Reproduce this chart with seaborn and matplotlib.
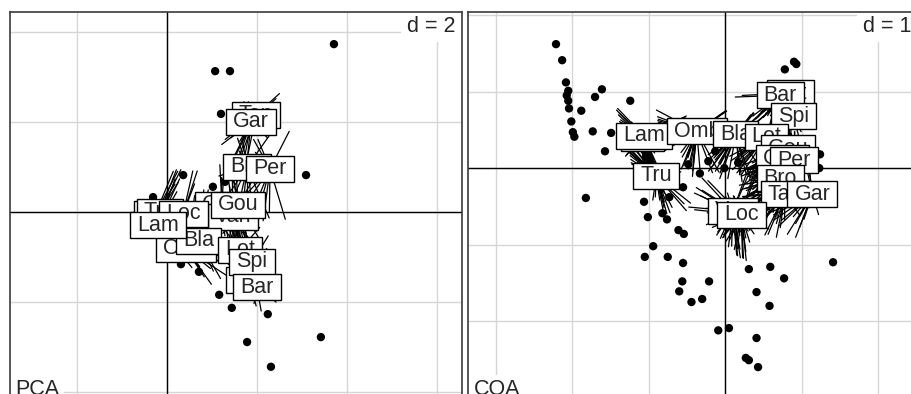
import numpy as np
import pandas as pd
import matplotlib
matplotlib.use("Agg")
import matplotlib.pyplot as plt
from matplotlib.patches import Rectangle
from matplotlib.transforms import IdentityTransform
import seaborn as sns

# ---- data: PCA panel ----
pca_x = [3.71, 1.07, 1.40, 1.20, 3.09, 0.36, -0.31, 1.02, 1.29, 0.31, 0.71, 1.16, 1.44, 2.24, 3.42, 1.78, 2.31]
pca_y = [3.73, 3.13, 3.13, 2.18, 0.82, 0.82, 0.33, 0.56, 0.67, -1.16, -1.33, -1.84, -2.13, -2.27, -2.78, -2.89, -3.44]

pca_labels = ["Tan", "Gar", "Bro", "Per", "Che", "Van", "Gou", "Vai", "Tru", "Loc",
              "Omb", "Bla", "Lam", "Lot", "Hot", "Spi", "Bar"]
pca_lab_x = [1.98, 1.87, 1.78, 2.29, 1.22, 1.47, 1.58, -0.26, -0.16, 0.36,
             0.42, 0.71, -0.20, 1.62, 1.84, 1.89, 2.00]
pca_lab_y = [2.16, 2.00, 1.00, 0.96, 0.16, -0.11, 0.16, -0.05, 0.00, -0.04,
             -0.82, -0.64, -0.29, -0.84, -1.51, -1.11, -1.67]

# ---- data: COA panel ----
coa_x = [-2.21, -2.13, -2.08, -2.05, -2.07, -2.05, -2.04, -2.01, -1.99, -1.97, -1.88, -1.70, -1.61,
         -1.24, -1.73, -1.49, -1.57, -1.82, -1.06, -1.01, -0.76, -0.82, -0.73, -0.55, -0.61, -0.54,
         -0.94, -1.05, -0.75, -0.55, -0.56, -0.60, -0.21, -0.44, -0.30, -0.09, 0.05, 0.31, 0.59,
         0.77, 0.41, 0.58, 0.41, 0.27, 0.31, 0.43, 1.41, 0.78, 0.90, 0.93, 1.24, 1.23, -0.48,
         -0.33, -0.22, -0.13, -0.01, 0.17]
coa_y = [1.62, 1.41, 1.12, 1.01, 0.95, 0.88, 0.78, 0.61, 0.47, 0.41, 0.75, 0.93, 1.03,
         0.88, 0.48, 0.46, 0.22, -0.39, -0.44, -0.64, -0.67, -0.59, -0.38, -0.25, -0.81, -0.86,
         -1.02, -1.16, -1.16, -1.24, -1.48, -1.61, -1.48, -1.75, -1.71, -2.12, -2.09, -1.32, -1.29,
         -1.44, -1.62, -1.80, -2.22, -2.48, -2.51, -2.60, -1.23, 1.29, 1.39, 1.36, 0.18, 0.00, 0.05,
         -0.07, 0.09, 0.22, 0.00, 0.07]

coa_labels = ["Vai", "Lam", "Omb", "Bla", "Hot", "Bar", "Spi", "Lot", "Gou", "Che",
              "Per", "Bro", "Tan", "Gar", "Tru", "Van", "Loc"]
coa_lab_x = [-1.08, -1.06, -0.37, 0.14, 0.85, 0.72, 0.89, 0.54, 0.82, 0.75,
             0.90, 0.72, 0.78, 1.14, -0.90, 0.10, 0.21]
coa_lab_y = [0.39, 0.42, 0.48, 0.44, 0.98, 0.95, 0.68, 0.41, 0.26, 0.13,
             0.10, -0.13, -0.34, -0.34, -0.10, -0.56, -0.61]

sns.set_style("white")
plt.rcParams["font.family"] = ["Liberation Sans", "DejaVu Sans"]

fig = plt.figure(figsize=(9.12, 3.94), dpi=100)
W, H = 912, 394
ax1 = fig.add_axes([10 / W, -6 / H, 452 / W, 388 / H])
ax2 = fig.add_axes([468 / W, -6 / H, 450 / W, 388 / H])

label_texts = []


def draw_panel(ax, px, py, labs, lx, ly, xlim, ylim, step, dtxt, title, cstar=0.3):
    ax.set_xlim(*xlim)
    ax.set_ylim(*ylim)
    # grid
    for g in np.arange(np.ceil(xlim[0] / step) * step, xlim[1], step):
        ax.axvline(g, color="#d6d6d6", lw=1, zorder=0)
    for g in np.arange(np.ceil(ylim[0] / step) * step, ylim[1], step):
        ax.axhline(g, color="#d6d6d6", lw=1, zorder=0)
    ax.text(0.985, 0.99, dtxt, transform=ax.transAxes, ha="right", va="top", fontsize=15.5,
            bbox=dict(facecolor="white", edgecolor="none", pad=4), zorder=1)
    ax.text(0.012, 0.0, title, transform=ax.transAxes, ha="left", va="bottom", fontsize=15.5,
            bbox=dict(facecolor="white", edgecolor="none", pad=3), zorder=1)
    ax.axvline(0, color="black", lw=1, zorder=1)
    ax.axhline(0, color="black", lw=1, zorder=1)
    pts = pd.DataFrame({"x": px, "y": py})
    # star segments from each class centre toward its nearby points
    r = 2.1 * step
    for cx, cy in zip(lx, ly):
        for x, y in zip(px, py):
            if np.hypot(x - cx, y - cy) > r:
                continue
            ax.plot([cx, cx + cstar * (x - cx)], [cy, cy + cstar * (y - cy)],
                    color="black", lw=0.9, zorder=2)
    sns.scatterplot(data=pts, x="x", y="y", ax=ax, color="black", s=36, edgecolor="none", zorder=3)
    for i, (t, cx, cy) in enumerate(zip(labs, lx, ly)):
        txt = ax.text(cx, cy, t, ha="center", va="center", fontsize=15.5, zorder=5 + 2 * i)
        label_texts.append((ax, txt, 4 + 2 * i))
    ax.set_xticks([])
    ax.set_yticks([])
    ax.set_xlabel("")
    ax.set_ylabel("")
    for s in ax.spines.values():
        s.set_color("#3a3a3a")
        s.set_linewidth(1.2)


draw_panel(ax1, pca_x, pca_y, pca_labels, pca_lab_x, pca_lab_y,
           (-3.489, 6.556), (-4.178, 4.444), 2, "d = 2", "PCA")
draw_panel(ax2, coa_x, coa_y, coa_labels, coa_lab_x, coa_lab_y,
           (-3.36, 2.52), (-3.03, 2.04), 1, "d = 1", "COA")

# white label boxes sized from the text extents (in pixels)
fig.canvas.draw()
renderer = fig.canvas.get_renderer()
for ax, txt, z in label_texts:
    bb = txt.get_window_extent(renderer)
    cx_pix, cy_pix = ax.transData.transform(txt.get_position())
    w = bb.width + 14
    h = 26
    rect = Rectangle((cx_pix - w / 2, cy_pix - h / 2), w, h, transform=IdentityTransform(),
                     facecolor="white", edgecolor="black", lw=1, zorder=z)
    rect.set_clip_path(ax.patch)
    ax.add_artist(rect)

fig.savefig("out.png", dpi=100)
